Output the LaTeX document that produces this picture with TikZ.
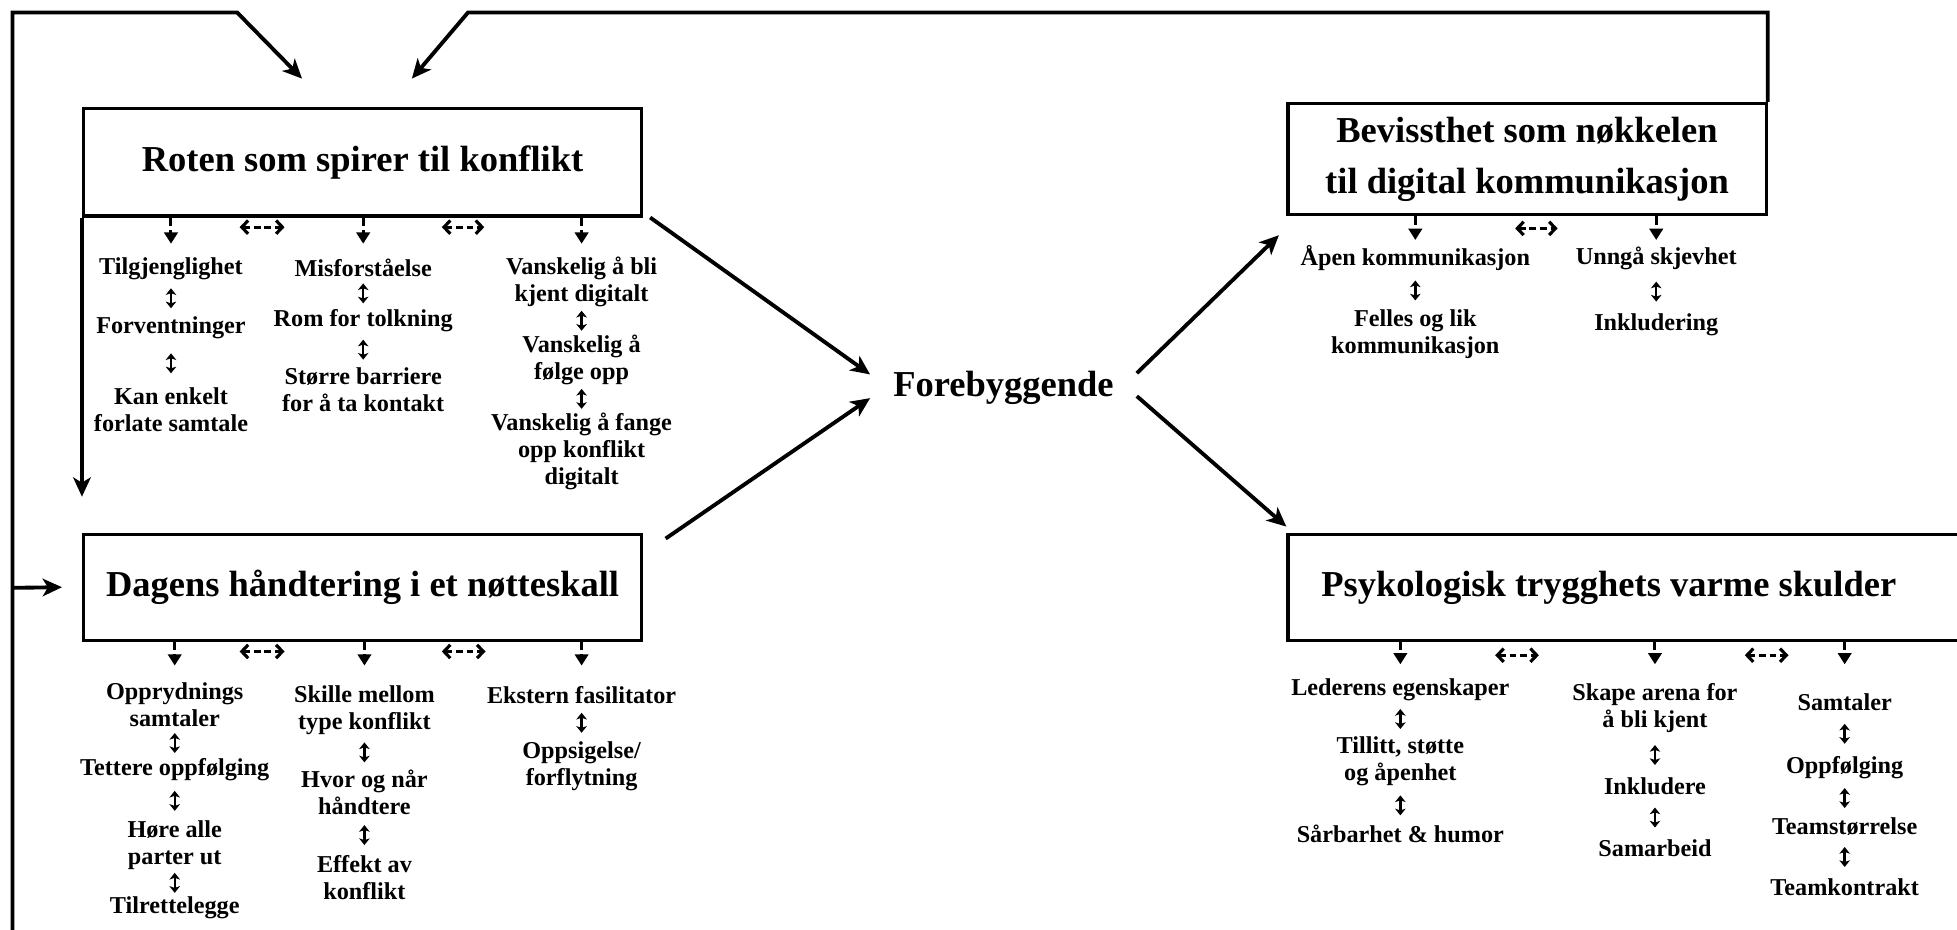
\documentclass[tikz,border=0pt]{standalone}
\usepackage{fontspec}
\setmainfont{Liberation Serif}
\usetikzlibrary{arrows.meta,calc}
\newcommand\titlefont{\fontsize{10.4}{14.5}\selectfont\bfseries}
\newcommand\itemfont{\fontsize{6.9}{7.7}\selectfont\bfseries}
\tikzset{
 main/.style={line width=1.1pt, -{Stealth[length=5.5pt,width=5pt,inset=1.5pt]}},
 box/.style={draw, line width=0.9pt, inner sep=0pt, align=center, font=\titlefont},
 title/.style={font=\titlefont, align=center, inner sep=0pt},
 item/.style={font=\itemfont, align=center, inner sep=0pt},
 ud/.style={line width=0.7pt, {Stealth[length=1.9pt,width=3pt,inset=0.5pt]}-{Stealth[length=1.9pt,width=3pt,inset=0.5pt]}},
 dn/.style={line width=0.85pt, dash pattern=on 2.4pt off 1.2pt, -{Triangle[length=3.2pt,width=3.8pt]}},
 hd/.style={line width=0.9pt, dash pattern=on 1.9pt off 1.1pt, {Straight Barb[length=1.8pt,width=3.8pt]}-{Straight Barb[length=1.8pt,width=3.8pt]}},
}
\newcommand\updown[2]{\draw[ud] ($(#1.south)!0.5!(#2.north)$) +(0,-8) -- +(0,8);}
\begin{document}
\begin{tikzpicture}[x=0.0125cm,y=-0.0125cm]
\useasboundingbox (0,0) rectangle (1568,745);
% boxes
\node[box, minimum width=5.5875cm, minimum height=1.075cm] (roten) at (290.5,130) {Roten som spirer til konflikt};
\node[box, minimum width=5.5875cm, minimum height=1.0625cm] (dagens) at (290.5,470.5) {Dagens håndtering i et nøtteskall};
\node[box, minimum width=4.7875cm, minimum height=1.1125cm] (bev) at (1223.5,127.5) {Bevissthet som nøkkelen\\til digital kommunikasjon};
\node[box, minimum width=7.1cm, minimum height=1.0625cm] (psy) at (1316,470.5) {};
\node[title] (psyt) at (1289,471) {Psykologisk trygghets varme skulder};
\node[title, inner xsep=0.225cm] (fore) at (804,311) {Forebyggende};
% loop
\coordinate (lb) at (10,760);
\coordinate (lt) at (10,10);
\coordinate (lk) at (190,10);
\coordinate (la) at (242,63);
\coordinate (lj) at (10,471);
\coordinate (rk) at (375,10);
\coordinate (ra) at (330,63);
\coordinate (rd) at (67,398);
\draw[main] (lb) -- (lt) -- (lk) -- (la);
\draw[main] (lj) -- ([xshift=-0.2cm]dagens.west);
\draw[main] (bev.north east) -- (bev.north east |- rk) -- (rk) -- (ra);
\draw[main] (roten.south west) -- (roten.south west |- rd);
% to / from Forebyggende
\draw[main] ([xshift=0.07cm]roten.south east) -- ([yshift=0.1375cm]fore.west);
\draw[main] ([shift={(0.225cm,-0.06cm)}]dagens.north east) -- ([yshift=-0.1cm]fore.west);
\draw[main] ([yshift=0.15cm]fore.east) -- ([shift={(-0.075cm,-0.19cm)}]bev.south west);
\draw[main] ([yshift=-0.08cm]fore.east) -- ([yshift=0.06cm]psy.north west);
% Roten items
\node[item] (ra1) at (137,215) {Tilgjenglighet};
\node[item] (ra2) at (137,263) {Forventninger};
\node[item] (ra3) at (137,328) {Kan enkelt\\forlate samtale};
\node[item] (rb1) at (291,215) {Misforståelse};
\node[item] (rb2) at (291,257) {Rom for tolkning};
\node[item] (rb3) at (291,312) {Større barriere\\for å ta kontakt};
\node[item] (rc1) at (466,226) {Vanskelig å bli\\kjent digitalt};
\node[item] (rc2) at (466,288) {Vanskelig å\\følge opp};
\node[item] (rc3) at (466,362) {Vanskelig å fange\\opp konflikt\\digitalt};
\updown{ra1}{ra2}\updown{ra2}{ra3}
\updown{rb1}{rb2}\updown{rb2}{rb3}
\updown{rc1}{rc2}\updown{rc2}{rc3}
\foreach \n in {ra1,rb1,rc1} \draw[dn] (roten.south -| \n) -- ++(0,21);
\draw[hd] (192,182) -- (228,182);
\draw[hd] (354,182) -- (388,182);
% Dagens items
\node[item] (da1) at (140,565) {Opprydnings\\samtaler};
\node[item] (da2) at (140,617) {Tettere oppfølging};
\node[item] (da3) at (140,677) {Høre alle\\parter ut};
\node[item] (da4) at (140,727) {Tilrettelegge};
\node[item] (db1) at (292,569) {Skille mellom\\type konflikt};
\node[item] (db2) at (292,635) {Hvor og når\\håndtere};
\node[item] (db3) at (292,703) {Effekt av\\konflikt};
\node[item] (dc1) at (466,557) {Ekstern fasilitator};
\node[item] (dc2) at (466,614) {Oppsigelse/\\forflytning};
\updown{da1}{da2}\updown{da2}{da3}\updown{da3}{da4}
\updown{db1}{db2}\updown{db2}{db3}
\updown{dc1}{dc2}
\foreach \n in {da1,db1,dc1} \draw[dn] (dagens.south -| \n) -- ++(0,19);
\draw[hd] (192,522) -- (228,522);
\draw[hd] (354,522) -- (389,522);
% Bevissthet items
\node[item] (ba1) at (1134,207) {Åpen kommunikasjon};
\node[item] (ba2) at (1134,268) {Felles og lik\\kommunikasjon};
\node[item] (bb1) at (1327,207) {Unngå skjevhet};
\node[item] (bb2) at (1327,260) {Inkludering};
\updown{ba1}{ba2}\updown{bb1}{bb2}
\foreach \n in {ba1,bb1} \draw[dn] (bev.south -| \n) -- ++(0,19);
\draw[hd] (1214,183) -- (1248,183);
% Psykologisk items
\node[item] (pa1) at (1122,553) {Lederens egenskaper};
\node[item] (pa2) at (1122,610) {Tillitt, støtte\\og åpenhet};
\node[item] (pa3) at (1122,668) {Sårbarhet \& humor};
\node[item] (pb1) at (1326,567) {Skape arena for\\å bli kjent};
\node[item] (pb2) at (1326,630) {Inkludere};
\node[item] (pb3) at (1326,680) {Samarbeid};
\node[item] (pc1) at (1478,563) {Samtaler};
\node[item] (pc2) at (1478,615) {Oppfølging};
\node[item] (pc3) at (1478,662) {Teamstørrelse};
\node[item] (pc4) at (1478,711) {Teamkontrakt};
\updown{pa1}{pa2}\updown{pa2}{pa3}
\updown{pb1}{pb2}\updown{pb2}{pb3}
\updown{pc1}{pc2}\updown{pc2}{pc3}\updown{pc3}{pc4}
\foreach \n in {pa1,pb1,pc1} \draw[dn] (psy.south -| \n) -- ++(0,18);
\draw[hd] (1198,525) -- (1233,525);
\draw[hd] (1398,525) -- (1433,525);
\end{tikzpicture}
\end{document}
